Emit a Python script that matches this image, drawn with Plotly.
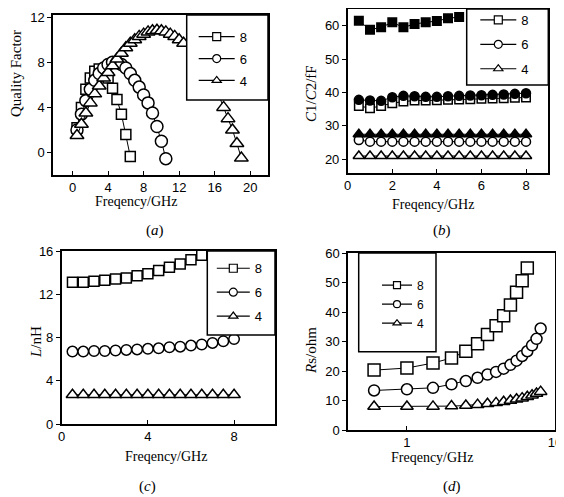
import plotly.graph_objects as go

# page window is 564x497; the html body adds an 8px margin, so the figure is 556x489
WIN_W, WIN_H = 564, 497
OFF = 8
W, H = WIN_W - OFF, WIN_H - OFF

# ---------------- data ----------------
# (a) Quality factor vs frequency
fa_8 = [0.5, 1.0, 1.5, 2.0, 2.5, 3.0, 3.5, 4.0, 4.5, 5.0, 5.5, 6.0, 6.5]
qa_8 = [2.2, 4.0, 5.6, 6.6, 7.2, 7.4, 7.2, 6.6, 5.7, 4.7, 3.4, 1.6, -0.35]
fa_6 = [0.5, 1.0, 1.5, 2.0, 2.5, 3.0, 3.5, 4.0, 4.5, 5.0, 5.5, 6.0, 6.5, 7.0, 7.5,
        8.0, 8.5, 9.0, 9.5, 10.0, 10.5]
qa_6 = [2.0, 3.4, 4.6, 5.6, 6.4, 7.0, 7.5, 7.8, 8.0, 8.0, 7.8, 7.5, 7.0, 6.4, 5.8,
        5.1, 4.4, 3.5, 2.3, 1.0, -0.55]
fa_4 = [0.5, 1.0, 1.5, 2.0, 2.5, 3.0, 3.5, 4.0, 4.5, 5.0, 5.5, 6.0, 6.5, 7.0, 7.5,
        8.0, 8.5, 9.0, 9.5, 10.0, 10.5, 11.0, 11.5, 12.0, 12.5,
        16.5, 17.0, 17.5, 18.0, 18.5, 19.0]
qa_4 = [1.5, 2.5, 3.5, 4.4, 5.2, 5.9, 6.6, 7.1, 7.7, 8.3, 8.8, 9.3, 9.7, 10.0, 10.3,
        10.5, 10.7, 10.8, 10.85, 10.8, 10.7, 10.5, 10.3, 10.0, 9.7,
        5.0, 4.0, 3.0, 2.0, 0.8, -0.5]

# (b) C1 / C2 vs frequency
fb = [0.5, 1.0, 1.5, 2.0, 2.5, 3.0, 3.5, 4.0, 4.5, 5.0, 5.5, 6.0, 6.5, 7.0, 7.5, 8.0]
c2_8 = [36.0, 35.3, 36.0, 36.8, 37.3, 37.6, 37.6, 37.7, 37.8, 37.9, 38.0, 38.1, 38.2, 38.3, 38.4, 38.5]
c2_6 = [25.8, 25.3, 25.3, 25.3, 25.3, 25.3, 25.3, 25.3, 25.3, 25.3, 25.3, 25.3, 25.3, 25.3, 25.3, 25.3]
c2_4 = [21.0, 21.0, 21.0, 21.0, 21.0, 21.0, 21.0, 21.0, 21.0, 21.0, 21.0, 21.0, 21.0, 21.0, 21.0, 21.0]
fb_c1_8 = [0.5, 1.0, 1.5, 2.0, 2.5, 3.0, 3.5, 4.0, 4.5, 5.0]
c1_8 = [61.5, 58.8, 59.5, 61.0, 59.5, 60.5, 61.0, 61.4, 62.2, 62.6]
c1_6 = [37.8, 37.6, 37.5, 38.6, 39.0, 38.9, 38.7, 38.7, 38.9, 39.0, 39.1, 39.2, 39.3, 39.4, 39.6, 39.8]
c1_4 = [27.5, 27.5, 27.5, 27.5, 27.5, 27.5, 27.5, 27.5, 27.5, 27.5, 27.5, 27.5, 27.5, 27.5, 27.5, 27.5]

# (c) L vs frequency
fc_8 = [0.5, 1.0, 1.5, 2.0, 2.5, 3.0, 3.5, 4.0, 4.5, 5.0, 5.5, 6.0, 6.5]
l_8 = [13.1, 13.1, 13.2, 13.3, 13.4, 13.5, 13.7, 13.9, 14.2, 14.5, 14.8, 15.2, 15.6]
fc = [0.5, 1.0, 1.5, 2.0, 2.5, 3.0, 3.5, 4.0, 4.5, 5.0, 5.5, 6.0, 6.5, 7.0, 7.5, 8.0]
l_6 = [6.7, 6.7, 6.75, 6.75, 6.8, 6.85, 6.9, 6.95, 7.0, 7.1, 7.15, 7.25, 7.35, 7.5, 7.65, 7.85]
l_4 = [2.7, 2.7, 2.7, 2.7, 2.7, 2.7, 2.7, 2.7, 2.7, 2.7, 2.7, 2.7, 2.7, 2.7, 2.7, 2.7]

# (d) Rs vs frequency (log axis)
fd_8 = [0.6, 1.0, 1.5, 2.0, 2.5, 3.0, 3.5, 4.0, 4.5, 5.0, 5.5, 6.0, 6.5]
rs_8 = [20.3, 21.0, 22.7, 24.4, 26.7, 29.2, 32.4, 35.3, 38.7, 42.4, 46.7, 50.6, 54.9]
fd = [0.6, 1.0, 1.5, 2.0, 2.5, 3.0, 3.5, 4.0, 4.5, 5.0, 5.5, 6.0, 6.5, 7.0, 7.5, 8.0]
rs_6 = [13.4, 13.8, 14.3, 15.5, 16.6, 17.7, 18.8, 19.7, 20.8, 22.1, 23.5, 25.1, 26.7, 28.7, 30.9, 34.4]
rs_4 = [7.95, 7.95, 8.0, 8.1, 8.3, 8.6, 8.9, 9.2, 9.6, 10.0, 10.4, 10.8, 11.3, 11.8, 12.4, 13.0]

names = ["8", "6", "4"]
symbols = ["square", "circle", "triangle-up"]

# ---------------- figure ----------------
fig = go.Figure()

def px_x(p):
    return (p - OFF) / W

def px_y(p):
    return 1 - (p - OFF) / H

def add(x, y, sym, size, ax, filled=False, lw=1.0):
    fig.add_trace(go.Scatter(
        x=x, y=y, mode="lines+markers", showlegend=False,
        xaxis="x" + ax, yaxis="y" + ax,
        line=dict(color="black", width=lw),
        marker=dict(symbol=sym, size=size, color="black" if filled else "white",
                    line=dict(color="black", width=1.5)),
        hoverinfo="skip"))

def add_legend(ax, leg, msize):
    for n, s in zip(names, symbols):
        fig.add_trace(go.Scatter(
            x=[None], y=[None], mode="lines+markers", name=n,
            xaxis="x" + ax, yaxis="y" + ax, legend=leg, legendgroup=leg + n,
            line=dict(color="black", width=1.2),
            marker=dict(symbol=s, size=msize, color="white",
                        line=dict(color="black", width=1.2))))

# (a)
add(fa_8, qa_8, "square", 10, "")
add(fa_6, qa_6, "circle", 12, "")
add(fa_4, qa_4, "triangle-up", 12, "")
add_legend("", "legend", 8)
# (b)
add(fb, c2_8, "square", 8.5, "2")
add(fb, c2_6, "circle", 9, "2")
add(fb, c2_4, "triangle-up", 10, "2")
add(fb_c1_8, c1_8, "square", 8.5, "2", filled=True)
add(fb, c1_6, "circle", 9, "2", filled=True)
add(fb, c1_4, "triangle-up", 10, "2", filled=True)
add_legend("2", "legend2", 8)
# (c)
add(fc_8, l_8, "square", 10, "3")
add(fc, l_6, "circle", 10.5, "3")
add(fc, l_4, "triangle-up", 11, "3")
add_legend("3", "legend3", 8)
# (d)
add(fd_8, rs_8, "square", 12, "4")
add(fd, rs_6, "circle", 11, "4")
add(fd, rs_4, "triangle-up", 11, "4")
add_legend("4", "legend4", 7)

# plot boxes in window pixels (left, right, top, bottom)
boxes = {
    "": (53, 268, 15, 175),
    "2": (347.7, 548.3, 9, 172.7),
    "3": (61.7, 275, 251, 424),
    "4": (348, 555, 253, 430),
}
tickfont = dict(family="Liberation Sans, Arial, sans-serif", size=13, color="black")
xr = {"": [-2.2, 22], "2": [0, 9], "3": [0, 9.9], "4": [-0.398, 1.0]}
yr = {"": [-2, 12.2], "2": [16, 65], "3": [0, 16], "4": [0, 60]}
xt = {"": [0, 4, 8, 12, 16, 20], "2": [0, 2, 4, 6, 8], "3": [0, 4, 8], "4": [1, 10]}
yt = {"": [0, 4, 8, 12], "2": [20, 30, 40, 50, 60], "3": [0, 4, 8, 12, 16],
      "4": [0, 10, 20, 30, 40, 50, 60]}

layout = dict(width=W, height=H, autosize=False,
              margin=dict(l=0, r=0, t=0, b=0, autoexpand=False),
              paper_bgcolor="white", plot_bgcolor="white")
for ax, (l, r, t, b) in boxes.items():
    common = dict(showgrid=False, zeroline=False, showline=True, linecolor="black",
                  linewidth=1.5, mirror=True, ticks="outside", ticklen=4,
                  tickwidth=1.2, tickcolor="black", tickfont=tickfont,
                  automargin=False)
    layout["xaxis" + ax] = dict(common, domain=[px_x(l), px_x(r)], range=xr[ax],
                                tickvals=xt[ax], ticks="inside",
                                anchor="y" + ax,
                                type="log" if ax == "4" else "linear")
    layout["yaxis" + ax] = dict(common, domain=[px_y(b), px_y(t)], range=yr[ax],
                                tickvals=yt[ax], anchor="x" + ax)

# legend boxes (window px): left, right, top, bottom ; marker centre x ; first item y ;
# spacing ; symbol width
legboxes = {
    "legend": (186.7, 268, 15, 100, 216.7, 36.7, 22, 36),
    "legend2": (466.7, 548.3, 9, 85, 498.3, 20, 24.5, 36),
    "legend3": (207.3, 275, 251, 335, 233.3, 268.3, 24, 33),
    "legend4": (358.7, 436, 253, 351.7, 397, 285.7, 19, 30),
}
shapes = []
for leg, (l, r, t, b, mx, fy, sp, iw) in legboxes.items():
    shapes.append(dict(type="rect", xref="paper", yref="paper",
                       x0=px_x(l), x1=px_x(r), y0=px_y(b), y1=px_y(t),
                       fillcolor="white", line=dict(color="black", width=1.5),
                       layer="above"))
    fsize = 12 if leg == "legend4" else 13
    base = 19 if leg == "legend4" else 20
    centre = (iw + 10) / 2
    layout[leg] = dict(x=px_x(mx - centre), y=px_y(fy - 15), xanchor="left", yanchor="top",
                       bgcolor="rgba(0,0,0,0)", borderwidth=0,
                       font=dict(family="Liberation Sans, Arial, sans-serif",
                                 size=fsize, color="black"),
                       tracegroupgap=max(sp - base, 0), itemwidth=iw)
layout["shapes"] = shapes

serif = "Liberation Serif, Times New Roman, serif"
ann = []
def text(x, y, s, size=14, angle=0):
    ann.append(dict(x=px_x(x), y=px_y(y), xref="paper", yref="paper", text=s,
                    showarrow=False, textangle=angle, xanchor="center", yanchor="middle",
                    font=dict(family=serif, size=size, color="black")))

text(136, 201, "Freqency/GHz")
text(433, 204, "Freqency/GHz")
text(166, 456, "Freqency/GHz")
text(432, 457, "Freqency/GHz")
text(155, 230, "(<i>a</i>)", 15)
text(442, 230, "(<i>b</i>)", 15)
text(147, 486, "(<i>c</i>)", 15)
text(452, 486, "(<i>d</i>)", 15)
text(16, 74, "Quality Factor", 15, -90)
text(311, 94, "<i>C</i>1/<i>C</i>2/fF", 15, -90)
text(36, 342, "<i>L</i>/nH", 15, -90)
text(311, 351, "<i>R</i>s/ohm", 15, -90)
layout["annotations"] = ann

fig.update_layout(layout)
fig.write_html("out.html")
